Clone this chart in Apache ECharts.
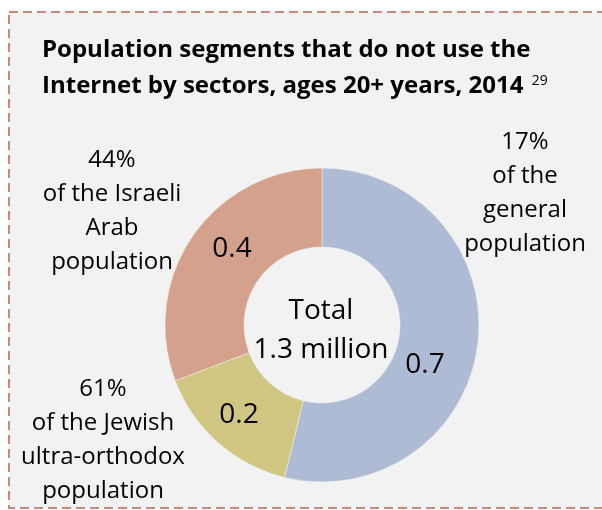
<!DOCTYPE html>
<html>
<head>
<meta charset="utf-8">
<script src="https://cdn.jsdelivr.net/npm/echarts@6/dist/echarts.min.js"></script>
<style>
  html, body { margin: 0; padding: 0; background: #fff; }
  #main { width: 602px; height: 510px; }
</style>
</head>
<body>
<div id="main"></div>
<script>
// data
var sectors = ['General population', 'Jewish ultra-orthodox', 'Israeli Arab'];
var values = [0.7, 0.2, 0.4]; // millions
var shares = ['17%', '61%', '44%'];
var groupText = ['of the\ngeneral\npopulation', 'of the Jewish\nultra-orthodox\npopulation', 'of the Israeli\nArab\npopulation'];
var colors = ['#aebbd4', '#d0c682', '#d4a18d'];

var total = values.reduce(function (a, b) { return a + b; }, 0);

// label spots (px)
var valuePos = [[425, 365], [239, 415], [232, 249]];
var descPos = [[525, 193], [103, 440], [112, 211]];

var font = '"Open Sans", "Noto Sans", sans-serif';

var pieData = sectors.map(function (s, i) {
    return { name: s, value: values[i], itemStyle: { color: colors[i] } };
});

var myChart = echarts.init(document.getElementById('main'));
myChart.setOption({
    backgroundColor: '#ffffff',
    animation: false,
    title: {
        text: 'Population segments that do not use the\nInternet by sectors, ages 20+ years, 2014 {sup|29}',
        left: 37,
        top: 27,
        textStyle: {
            fontFamily: font,
            fontSize: 24,
            fontWeight: 'bold',
            color: '#000',
            lineHeight: 36,
            rich: {
                sup: { fontFamily: font, fontSize: 14, fontWeight: 'normal', color: '#000',
                       lineHeight: 14, verticalAlign: 'top', padding: [6, 0, 0, 2] }
            }
        }
    },
    graphic: [
        {
            type: 'rect', z: -10, silent: true,
            shape: { x: 9, y: 12, width: 700, height: 496 },
            style: { fill: '#f2f2f2', stroke: '#c98b76', lineWidth: 2, lineDash: [9, 5] }
        },
        {
            type: 'text', z: 100, silent: true,
            x: 321, y: 331,
            style: {
                text: 'Total\n' + total.toFixed(1) + ' million',
                fontFamily: font, fontSize: 28, lineHeight: 39,
                fill: '#000', align: 'center', verticalAlign: 'middle'
            }
        }
    ],
    series: [
        {
            type: 'pie',
            center: [322, 325],
            radius: [78, 157],
            startAngle: 90,
            silent: true,
            itemStyle: { borderColor: '#f2f2f2', borderWidth: 0.5 },
            label: {
                show: true,
                position: 'inside',
                formatter: function (p) { return p.value.toFixed(1); },
                fontFamily: font, fontSize: 28, color: '#000'
            },
            labelLine: { show: false },
            labelLayout: function (p) {
                var pos = valuePos[p.dataIndex];
                return { x: pos[0], y: pos[1], align: 'center', verticalAlign: 'middle' };
            },
            data: pieData
        },
        {
            type: 'pie',
            center: [322, 325],
            radius: [78, 157],
            startAngle: 90,
            silent: true,
            itemStyle: { color: 'rgba(0,0,0,0)', borderWidth: 0 },
            label: {
                show: true,
                position: 'inside',
                overflow: 'none',
                formatter: function (p) { return shares[p.dataIndex] + '\n' + groupText[p.dataIndex]; },
                fontFamily: font, fontSize: 24, lineHeight: 34, color: '#000', align: 'center'
            },
            labelLine: { show: false },
            labelLayout: function (p) {
                var pos = descPos[p.dataIndex];
                return { x: pos[0], y: pos[1], align: 'center', verticalAlign: 'middle' };
            },
            data: sectors.map(function (s, i) { return { name: s, value: values[i] }; })
        }
    ]
});
</script>
</body>
</html>
